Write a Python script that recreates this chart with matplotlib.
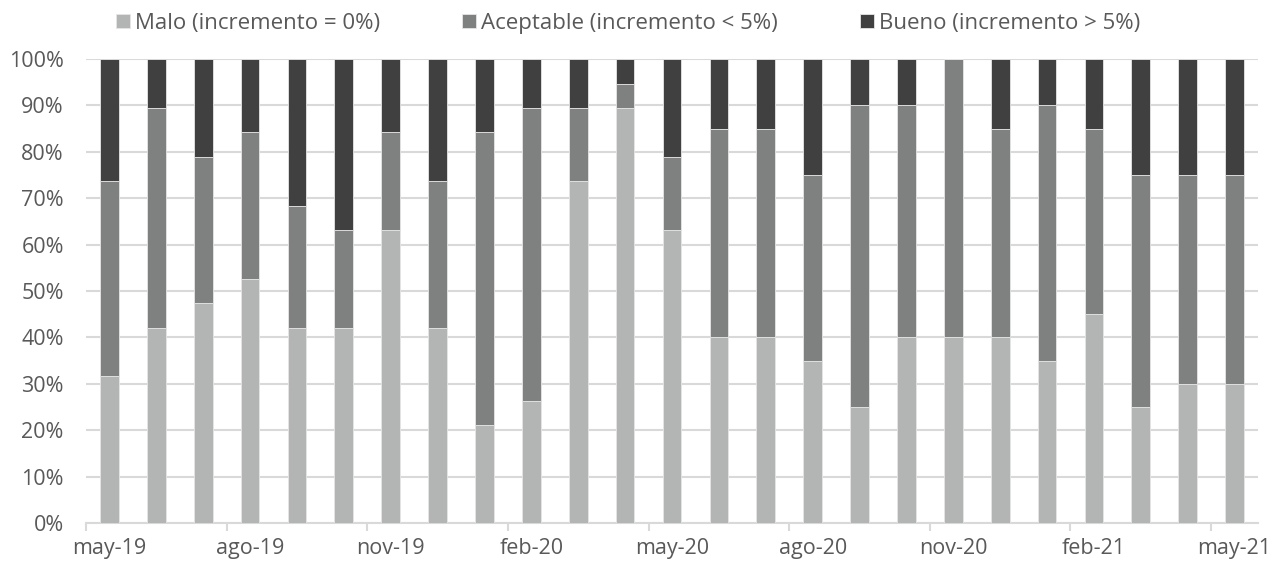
import matplotlib
matplotlib.use("Agg")
import matplotlib.pyplot as plt
import numpy as np

months = ["may-19", "jun-19", "jul-19", "ago-19", "sep-19", "oct-19", "nov-19", "dic-19",
          "ene-20", "feb-20", "mar-20", "abr-20", "may-20", "jun-20", "jul-20", "ago-20",
          "sep-20", "oct-20", "nov-20", "dic-20", "ene-21", "feb-21", "mar-21", "abr-21",
          "may-21"]

malo = [31.6, 42.1, 47.4, 52.6, 42.1, 42.1, 63.2, 42.1, 21.1, 26.3, 73.7, 89.5, 63.2,
        40, 40, 35, 25, 40, 40, 40, 35, 45, 25, 30, 30]
aceptable = [42.1, 47.4, 31.5, 31.6, 26.3, 21.1, 21.0, 31.6, 63.1, 63.2, 15.8, 5.2, 15.7,
             45, 45, 40, 65, 50, 60, 45, 55, 40, 50, 45, 45]
bueno = [26.3, 10.5, 21.1, 15.8, 31.6, 36.8, 15.8, 26.3, 15.8, 10.5, 10.5, 5.3, 21.1,
         15, 15, 25, 10, 10, 0, 15, 10, 15, 25, 25, 25]

series_names = ["Malo (incremento = 0%)", "Aceptable (incremento < 5%)", "Bueno (incremento > 5%)"]
colors = ["#B3B5B4", "#7F8180", "#404040"]
text_color = "#595959"
grid_color = "#D9D9D9"

plt.rcParams["font.family"] = ["Open Sans", "DejaVu Sans"]

fig = plt.figure(figsize=(12.72, 5.62), dpi=100)
ax = fig.add_axes([0.0676, 0.0694, 0.9214, 0.8256])

x = np.arange(len(months))
bottom = np.zeros(len(months))
handles = []
for vals, name, col in zip([malo, aceptable, bueno], series_names, colors):
    v = np.array(vals, dtype=float)
    h = ax.bar(x, v, width=0.4, bottom=bottom, color=col, edgecolor="#E6E6E6",
               linewidth=0.6, label=name, zorder=3)
    handles.append(h)
    bottom += v

ax.set_xlim(-0.5, len(months) - 0.5)
ax.set_ylim(0, 100)
ax.set_yticks(np.arange(0, 101, 10))
ax.set_yticklabels([f"{v}%" for v in range(0, 101, 10)])
ax.yaxis.grid(True, color=grid_color, linewidth=1.5, zorder=0)
ax.set_axisbelow(True)

# Category labels every three months, tick marks on the category boundaries
ax.set_xticks(x[::3])
ax.set_xticklabels([months[i] for i in x[::3]])
ax.set_xticks(np.arange(-0.5, len(months) - 0.5, 3), minor=True)
ax.tick_params(axis="x", which="major", length=0, pad=11, labelsize=15.5, labelcolor=text_color)
ax.tick_params(axis="x", which="minor", length=6, width=1.5, color=grid_color)
ax.tick_params(axis="y", length=0, pad=16, labelsize=15.5, labelcolor=text_color)

for side in ["top", "right", "left"]:
    ax.spines[side].set_visible(False)
ax.spines["bottom"].set_color(grid_color)
ax.spines["bottom"].set_linewidth(1.5)

leg = fig.legend(handles=handles, labels=series_names, loc="center", ncol=3,
                 bbox_to_anchor=(0.494, 0.958), frameon=False, fontsize=16,
                 handlelength=0.6, handleheight=0.6, handletextpad=0.25, columnspacing=3.7)
for t in leg.get_texts():
    t.set_color(text_color)

fig.savefig("out.png", dpi=100)
